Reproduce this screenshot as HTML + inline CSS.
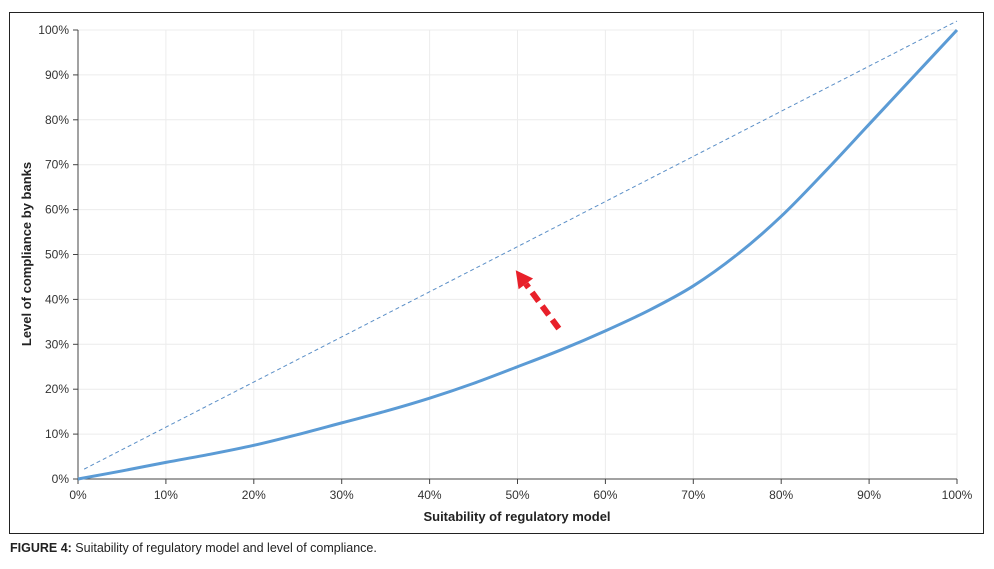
<!DOCTYPE html>
<html><head><meta charset="utf-8"><style>
body{margin:0;background:#fff;width:994px;height:569px;overflow:hidden;font-family:"Liberation Sans",sans-serif}
#frame{position:absolute;left:9px;top:12px;width:975px;height:522px;border:1px solid #222;box-sizing:border-box}
#cap{position:absolute;left:10px;top:541px;font-size:12.5px;color:#222}
</style></head><body>
<div id="frame"></div>
<svg id="chart" width="994" height="569" style="position:absolute;left:0;top:0"></svg>
<div id="cap"><b>FIGURE 4:</b> Suitability of regulatory model and level of compliance.</div>
<script>
const xTicks=[0,10,20,30,40,50,60,70,80,90,100];
const yTicks=[0,10,20,30,40,50,60,70,80,90,100];
const curveX=[0,5,10,15,20,25,30,35,40,45,50,55,60,65,70,75,80,85,90,95,100];
const curveY=[0,1.8,3.7,5.5,7.5,9.9,12.5,15.1,18,21.3,25,28.8,33,37.6,43,50,58.5,68.5,79,89.5,100];
const refX=[0.7,100];
const refY=[2.2,102];
const arrowFrom=[54.7,33.5];
const arrowTo=[49.8,46.5];
const X=v=>78+v*8.79, Y=v=>479-v*4.49;
const svg=document.getElementById('chart');
const NS='http://www.w3.org/2000/svg';
function mk(t,a,p){const e=document.createElementNS(NS,t);for(const k in a)e.setAttribute(k,a[k]);(p||svg).appendChild(e);return e;}
yTicks.forEach(v=>{
 const g=mk('line',{x1:78,x2:957,y1:Y(v),y2:Y(v),stroke:'#ececec','stroke-width':1});
 
 
 const t=mk('text',{x:69,y:Y(v)+4,'text-anchor':'end','font-size':12,fill:'#333'});t.textContent=v+'%';
 
 
 mk('line',{x1:73,x2:78,y1:Y(v),y2:Y(v),stroke:'#444'});
});
xTicks.forEach(v=>{
 if(v>0){const g=mk('line',{x1:X(v),x2:X(v),y1:Y(0),y2:Y(100),stroke:'#ececec'});
 
 }
 const t=mk('text',{x:X(v),y:499,'text-anchor':'middle','font-size':12,fill:'#333'});t.textContent=v+'%';
 
 
 mk('line',{x1:X(v),x2:X(v),y1:479,y2:484,stroke:'#444'});
});
mk('line',{x1:78,x2:78,y1:Y(100),y2:479,stroke:'#444'});
mk('line',{x1:78,x2:957,y1:479,y2:479,stroke:'#444'});
const xt=mk('text',{x:517,y:521,'text-anchor':'middle','font-size':13,'font-weight':'bold',fill:'#222'});xt.textContent='Suitability of regulatory model';


const yt=mk('text',{x:0,y:0,'text-anchor':'middle','font-size':13,'font-weight':'bold',fill:'#222',transform:'translate(31,254) rotate(-90)'});yt.textContent='Level of compliance by banks';


const ref=mk('line',{x1:X(refX[0]),y1:Y(refY[0]),x2:X(refX[1]),y2:Y(refY[1]),stroke:'#5b8fc7','stroke-width':1,'stroke-dasharray':'4,3'});


const pts=curveX.map((x,i)=>[X(x),Y(curveY[i])]);
let d='M'+pts[0][0]+','+pts[0][1];
for(let i=0;i<pts.length-1;i++){const p0=pts[Math.max(i-1,0)],p1=pts[i],p2=pts[i+1],p3=pts[Math.min(i+2,pts.length-1)];
 d+=` C${p1[0]+(p2[0]-p0[0])/6},${p1[1]+(p2[1]-p0[1])/6} ${p2[0]-(p3[0]-p1[0])/6},${p2[1]-(p3[1]-p1[1])/6} ${p2[0]},${p2[1]}`;}
const c=mk('path',{d:d,fill:'none',stroke:'#5b9bd5','stroke-width':3});


const ax1=X(arrowFrom[0]),ay1=Y(arrowFrom[1]),ax2=X(arrowTo[0]),ay2=Y(arrowTo[1]);
const dx=ax2-ax1,dy=ay2-ay1,L=Math.hypot(dx,dy),ux=dx/L,uy=dy/L;
const hb=[ax2-ux*17,ay2-uy*17];
const ar=mk('line',{x1:ax1,y1:ay1,x2:hb[0],y2:hb[1],stroke:'#e8202a','stroke-width':6,'stroke-dasharray':'11,6'});


const ah=mk('polygon',{points:`${ax2},${ay2} ${hb[0]-uy*9},${hb[1]+ux*9} ${hb[0]+uy*9},${hb[1]-ux*9}`,fill:'#e8202a'});


</script>
</body></html>
